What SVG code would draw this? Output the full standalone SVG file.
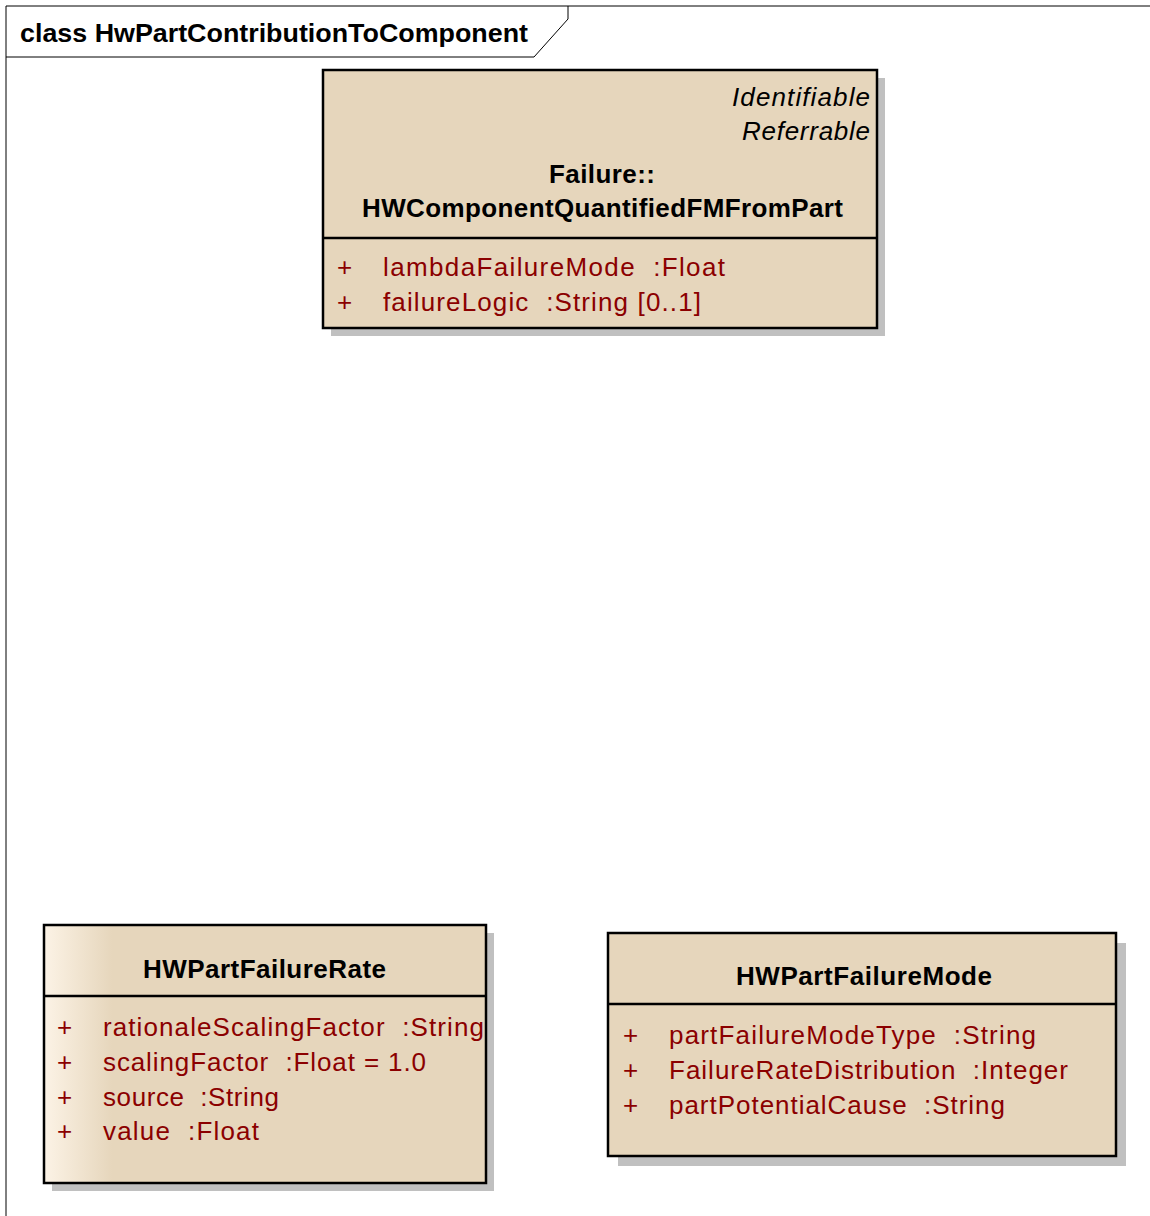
<svg xmlns="http://www.w3.org/2000/svg" width="1150" height="1216" viewBox="0 0 1150 1216">
<style>
.frame{fill:none;stroke:#000;stroke-width:1}
.shadow{fill:#c0c0c0}
.box{fill:#e6d6bc;stroke:#000;stroke-width:2.5}
.div{stroke:#000;stroke-width:2.5}
.hd{font-family:"Liberation Sans",Arial,sans-serif;font-weight:bold;font-size:26px;fill:#000}
.st{font-family:"Liberation Sans",Arial,sans-serif;font-style:italic;font-size:26px;fill:#000}
.at{font-family:"Liberation Sans",Arial,sans-serif;font-size:26px;fill:#8b0000;white-space:pre}
.ttl{font-family:"Liberation Sans",Arial,sans-serif;font-weight:bold;font-size:25px;fill:#000}
</style>
<defs>
<linearGradient id="lg" gradientUnits="userSpaceOnUse" x1="44" y1="0" x2="112" y2="0">
<stop offset="0" stop-color="#fcf3e6"/>
<stop offset="1" stop-color="#e6d6bc"/>
</linearGradient>
</defs>
<rect width="1150" height="1216" fill="#fff"/>
<g id="frame">
<path class="frame" d="M6,1216 V6 H1150"/>
<path class="frame" d="M6,57 H534 L568,19 V6"/>
<text class="ttl" x="20" y="42" textLength="508" lengthAdjust="spacingAndGlyphs">class HwPartContributionToComponent</text>
</g>
<g id="connectors"></g>
<g id="HWComponentQuantifiedFMFromPart">
<rect class="shadow" x="331" y="78" width="554" height="258"/>
<rect class="box" x="323" y="70" width="554" height="258"/>
<line class="div" x1="323" y1="238" x2="877" y2="238"/>
<text class="st" x="870" y="106" text-anchor="end" textLength="138" lengthAdjust="spacing">Identifiable</text>
<text class="st" x="870" y="140" text-anchor="end" textLength="128" lengthAdjust="spacing">Referrable</text>
<text class="hd" x="549" y="183" textLength="106" lengthAdjust="spacing">Failure::</text>
<text class="hd" x="362" y="217" textLength="481" lengthAdjust="spacing">HWComponentQuantifiedFMFromPart</text>
<text class="at" x="337" y="276">+</text>
<text class="at" x="383" y="276" textLength="342" lengthAdjust="spacing" xml:space="preserve">lambdaFailureMode  :Float</text>
<text class="at" x="337" y="311">+</text>
<text class="at" x="383" y="311" textLength="318" lengthAdjust="spacing" xml:space="preserve">failureLogic  :String [0..1]</text>
</g>
<g id="HWPartFailureRate">
<rect class="shadow" x="52" y="933" width="442" height="258"/>
<rect class="box" x="44" y="925" width="442" height="258" style="fill:url(#lg)"/>
<line class="div" x1="44" y1="996" x2="486" y2="996"/>
<text class="hd" x="143" y="978" textLength="243" lengthAdjust="spacing">HWPartFailureRate</text>
<text class="at" x="57" y="1036">+</text>
<text class="at" x="103" y="1036" textLength="381" lengthAdjust="spacing" xml:space="preserve">rationaleScalingFactor  :String</text>
<text class="at" x="57" y="1071">+</text>
<text class="at" x="103" y="1071" textLength="323" lengthAdjust="spacing" xml:space="preserve">scalingFactor  :Float = 1.0</text>
<text class="at" x="57" y="1106">+</text>
<text class="at" x="103" y="1106" textLength="176" lengthAdjust="spacing" xml:space="preserve">source  :String</text>
<text class="at" x="57" y="1140">+</text>
<text class="at" x="103" y="1140" textLength="156" lengthAdjust="spacing" xml:space="preserve">value  :Float</text>
</g>
<g id="HWPartFailureMode">
<rect class="shadow" x="618" y="943" width="508" height="223"/>
<rect class="box" x="608" y="933" width="508" height="223"/>
<line class="div" x1="608" y1="1004" x2="1116" y2="1004"/>
<text class="hd" x="736" y="985" textLength="256" lengthAdjust="spacing">HWPartFailureMode</text>
<text class="at" x="623" y="1044">+</text>
<text class="at" x="669" y="1044" textLength="367" lengthAdjust="spacing" xml:space="preserve">partFailureModeType  :String</text>
<text class="at" x="623" y="1079">+</text>
<text class="at" x="669" y="1079" textLength="399" lengthAdjust="spacing" xml:space="preserve">FailureRateDistribution  :Integer</text>
<text class="at" x="623" y="1114">+</text>
<text class="at" x="669" y="1114" textLength="336" lengthAdjust="spacing" xml:space="preserve">partPotentialCause  :String</text>
</g>
</svg>
